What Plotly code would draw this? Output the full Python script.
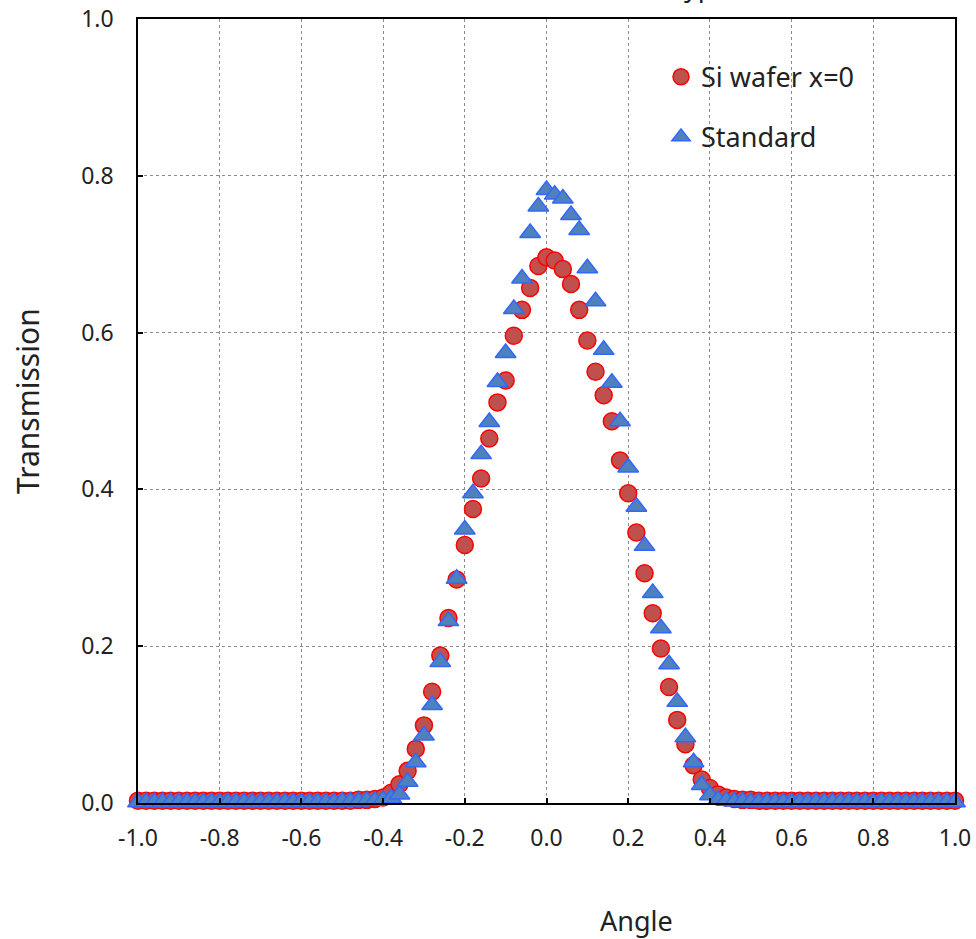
import plotly.graph_objects as go

# Incidence angle grid (step 0.02 from -1.0 to 1.0)
angle = [
    -1.00, -0.98, -0.96, -0.94, -0.92, -0.90, -0.88, -0.86, -0.84, -0.82,
    -0.80, -0.78, -0.76, -0.74, -0.72, -0.70, -0.68, -0.66, -0.64, -0.62,
    -0.60, -0.58, -0.56, -0.54, -0.52, -0.50, -0.48, -0.46, -0.44, -0.42,
    -0.40, -0.38, -0.36, -0.34, -0.32, -0.30, -0.28, -0.26, -0.24, -0.22,
    -0.20, -0.18, -0.16, -0.14, -0.12, -0.10, -0.08, -0.06, -0.04, -0.02,
    0.00, 0.02, 0.04, 0.06, 0.08, 0.10, 0.12, 0.14, 0.16, 0.18,
    0.20, 0.22, 0.24, 0.26, 0.28, 0.30, 0.32, 0.34, 0.36, 0.38,
    0.40, 0.42, 0.44, 0.46, 0.48, 0.50, 0.52, 0.54, 0.56, 0.58,
    0.60, 0.62, 0.64, 0.66, 0.68, 0.70, 0.72, 0.74, 0.76, 0.78,
    0.80, 0.82, 0.84, 0.86, 0.88, 0.90, 0.92, 0.94, 0.96, 0.98,
    1.00,
]

# Transmission through the Si wafer at x=0
si_wafer = [
    0.003, 0.003, 0.003, 0.003, 0.003, 0.003, 0.003, 0.003, 0.003, 0.003,
    0.003, 0.003, 0.003, 0.003, 0.003, 0.003, 0.003, 0.003, 0.003, 0.003,
    0.003, 0.003, 0.003, 0.003, 0.003, 0.003, 0.003, 0.004, 0.004, 0.005,
    0.007, 0.013, 0.024, 0.041, 0.069, 0.099, 0.142, 0.188, 0.236, 0.285,
    0.329, 0.375, 0.414, 0.465, 0.511, 0.539, 0.596, 0.629, 0.657, 0.685,
    0.696, 0.692, 0.681, 0.662, 0.629, 0.590, 0.550, 0.520, 0.487, 0.437,
    0.395, 0.345, 0.293, 0.242, 0.197, 0.148, 0.106, 0.075, 0.048, 0.030,
    0.019, 0.011, 0.007, 0.005, 0.004, 0.004, 0.003, 0.003, 0.003, 0.003,
    0.003, 0.003, 0.003, 0.003, 0.003, 0.003, 0.003, 0.003, 0.003, 0.003,
    0.003, 0.003, 0.003, 0.003, 0.003, 0.003, 0.003, 0.003, 0.003, 0.003,
    0.003,
]

# Transmission of the standard
standard = [
    0.001, 0.001, 0.001, 0.001, 0.001, 0.001, 0.001, 0.001, 0.001, 0.001,
    0.001, 0.001, 0.001, 0.001, 0.001, 0.001, 0.001, 0.001, 0.001, 0.001,
    0.001, 0.001, 0.001, 0.001, 0.001, 0.002, 0.002, 0.002, 0.003, 0.003,
    0.004, 0.006, 0.011, 0.027, 0.052, 0.086, 0.125, 0.180, 0.232, 0.286,
    0.349, 0.395, 0.445, 0.486, 0.537, 0.574, 0.630, 0.669, 0.727, 0.761,
    0.782, 0.776, 0.771, 0.750, 0.731, 0.682, 0.640, 0.578, 0.536, 0.487,
    0.428, 0.378, 0.328, 0.268, 0.223, 0.177, 0.129, 0.084, 0.052, 0.023,
    0.010, 0.004, 0.003, 0.002, 0.002, 0.001, 0.001, 0.001, 0.001, 0.001,
    0.001, 0.001, 0.001, 0.001, 0.001, 0.001, 0.001, 0.001, 0.001, 0.001,
    0.001, 0.001, 0.001, 0.001, 0.001, 0.001, 0.001, 0.001, 0.001, 0.001,
    0.001,
]

x_tick_vals = [-1.0, -0.8, -0.6, -0.4, -0.2, 0.0, 0.2, 0.4, 0.6, 0.8, 1.0]
x_tick_text = ["-1.0", "-0.8", "-0.6", "-0.4", "-0.2", "0.0", "0.2", "0.4", "0.6", "0.8", "1.0"]
y_tick_vals = [0.0, 0.2, 0.4, 0.6, 0.8, 1.0]
y_tick_text = ["0.0", "0.2", "0.4", "0.6", "0.8", "1.0"]

FONT = "Noto Sans"
INK = "#222222"

fig = go.Figure()
fig.add_trace(go.Scatter(
    x=angle, y=si_wafer, mode="markers", name="Si wafer x=0",
    legendgroup="si",
    marker=dict(symbol="circle", size=17, color="#C0504D",
                line=dict(color="#FF0000", width=1.5)),
    cliponaxis=False,
))
fig.add_trace(go.Scatter(
    x=angle, y=standard, mode="markers", name="Standard",
    legendgroup="std",
    marker=dict(symbol="triangle-up", size=18, color="#4F81BD",
                line=dict(color="#3366FF", width=1.5)),
    cliponaxis=False,
))

axis_common = dict(
    showline=True, linecolor="black", linewidth=1.5, mirror=True,
    showgrid=True, gridcolor="#8c8c8c", griddash="dot", gridwidth=1,
    ticks="inside", ticklen=5, tickcolor="black", tickwidth=1.5,
    zeroline=False, automargin=False,
    tickfont=dict(family=FONT, size=23, color=INK),
)

fig.update_xaxes(range=[-1, 1], tickvals=x_tick_vals, ticktext=x_tick_text,
                 ticklabelstandoff=14, **axis_common)
fig.update_yaxes(range=[0, 1], tickvals=y_tick_vals, ticktext=y_tick_text,
                 ticklabelstandoff=18, **axis_common)

# Axis titles placed as free text
fig.add_annotation(text="Angle", xref="paper", yref="paper",
                   x=(636 - 138) / 817, y=(803 - 920) / 784,
                   xanchor="center", yanchor="middle",
                   showarrow=False, font=dict(family=FONT, size=27, color=INK))
fig.add_annotation(text="Transmission", xref="paper", yref="paper",
                   x=(27 - 138) / 817, y=(803 - 401) / 784, textangle=-90,
                   xanchor="center", yanchor="middle",
                   showarrow=False, font=dict(family=FONT, size=30, color=INK))

# Chart heading sitting above the top edge of the page
fig.add_annotation(text="Si wafer, Parallel type", xref="paper", yref="paper",
                   x=(732 - 138) / 817, y=1, xanchor="right", yanchor="bottom",
                   yshift=13, showarrow=False,
                   font=dict(family=FONT, size=27, color=INK))

fig.update_layout(
    width=976, height=939,
    margin=dict(l=138, r=21, t=19, b=136),
    plot_bgcolor="white", paper_bgcolor="white",
    font=dict(family=FONT, color=INK),
    showlegend=True,
    legend=dict(x=(661 - 138) / 817, y=0.957, xanchor="left", yanchor="top",
                font=dict(family=FONT, size=27, color=INK),
                bgcolor="rgba(0,0,0,0)", tracegroupgap=22, itemwidth=30),
)

fig.write_html("out.html")
